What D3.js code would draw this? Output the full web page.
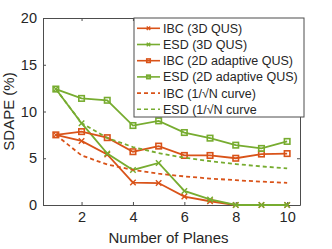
<!DOCTYPE html>
<html>
<head>
<meta charset="utf-8">
<script src="https://cdn.jsdelivr.net/npm/d3@7"></script>
<style>
  body { margin: 0; background: #fff; }
  text { font-family: "Liberation Sans", Arial, sans-serif; fill: #262626; }
</style>
</head>
<body>
<div id="chart"></div>
<script>
// data
const planes = [1, 2, 3, 4, 5, 6, 7, 8, 9, 10];
const ibc3d = [7.5, 6.85, 5.4, 2.4, 2.35, 0.9, 0.4, 0, 0, 0];
const esd3d = [12.4, 8.75, 5.5, 3.75, 4.5, 1.5, 0.6, 0, 0, 0];
const ibc2d = [7.5, 7.85, 7.2, 5.7, 6.3, 5.3, 5.3, 5.0, 5.45, 5.5];
const esd2d = [12.4, 11.4, 11.2, 8.5, 9.0, 7.75, 7.15, 6.4, 6.05, 6.8];
const ibcCurve = [7.5, 5.3, 4.33, 3.75, 3.35, 3.06, 2.83, 2.65, 2.5, 2.37];
const esdCurve = [12.4, 8.77, 7.16, 6.2, 5.55, 5.06, 4.69, 4.38, 4.13, 3.92];
const xTicks = [2, 4, 6, 8, 10];
const yTicks = [0, 5, 10, 15, 20];

const orange = "#D95319", green = "#77AC30";
const series = [
    { name: "IBC (3D QUS)", values: ibc3d, color: orange, marker: "x", dash: null },
    { name: "ESD (3D QUS)", values: esd3d, color: green, marker: "x", dash: null },
    { name: "IBC (2D adaptive QUS)", values: ibc2d, color: orange, marker: "s", dash: null },
    { name: "ESD (2D adaptive QUS)", values: esd2d, color: green, marker: "s", dash: null },
    { name: "IBC (1/\u221AN curve)", values: ibcCurve, color: orange, marker: null, dash: "4,3" },
    { name: "ESD (1/\u221AN curve", values: esdCurve, color: green, marker: null, dash: "4,3" }
];

let margin = { top: 18, right: 32, bottom: 44, left: 43 },
    width = 332 - margin.left - margin.right,
    height = 249 - margin.top - margin.bottom;

let x = d3.scaleLinear().domain([0.5, 10.5]).range([0, width]);
let y = d3.scaleLinear().domain([0, 20]).range([height, 0]);

let svg = d3.select("#chart").append("svg")
    .attr("width", 332)
    .attr("height", 249)
  .append("g")
    .attr("transform", `translate(${margin.left},${margin.top})`);

// axes with inward ticks on all four sides
const axisColor = "#4d4d4d";
const styleAxis = g => g
    .call(g => g.select(".domain").attr("stroke", axisColor))
    .call(g => g.selectAll(".tick line").attr("stroke", axisColor))
    .call(g => g.selectAll(".tick text")
        .attr("font-size", "14.5px")
        .attr("fill", "#262626")
        .attr("font-family", "Liberation Sans, Arial, sans-serif"));

svg.append("g")
    .attr("transform", `translate(0,${height})`)
    .call(d3.axisBottom(x).tickValues(xTicks).tickSizeInner(-3).tickSizeOuter(0).tickPadding(7))
    .call(styleAxis);
svg.append("g")
    .call(d3.axisTop(x).tickValues(xTicks).tickSizeInner(-3).tickSizeOuter(0).tickFormat(""))
    .call(styleAxis);
svg.append("g")
    .call(d3.axisLeft(y).tickValues(yTicks).tickSizeInner(-3).tickSizeOuter(0).tickPadding(6))
    .call(styleAxis);
svg.append("g")
    .attr("transform", `translate(${width},0)`)
    .call(d3.axisRight(y).tickValues(yTicks).tickSizeInner(-3).tickSizeOuter(0).tickFormat(""))
    .call(styleAxis);

let line = d3.line()
    .x((d, i) => x(planes[i]))
    .y(d => y(d));

function drawMarker(g, type, color, size) {
    if (type === "s") {
        g.append("rect")
            .attr("x", -size / 2).attr("y", -size / 2)
            .attr("width", size).attr("height", size)
            .attr("fill", "none")
            .attr("stroke", color)
            .attr("stroke-width", 1.6);
    } else if (type === "x") {
        let h = size / 2;
        g.append("path")
            .attr("d", `M${-h},${-h}L${h},${h}M${-h},${h}L${h},${-h}`)
            .attr("stroke", color)
            .attr("stroke-width", 1.4);
    }
}

series.forEach(s => {
    svg.append("path")
        .datum(s.values)
        .attr("fill", "none")
        .attr("stroke", s.color)
        .attr("stroke-width", 1.8)
        .attr("stroke-dasharray", s.dash)
        .attr("d", line);
    if (s.marker) {
        s.values.forEach((v, i) => {
            let g = svg.append("g")
                .attr("transform", `translate(${x(planes[i])},${y(v)})`);
            drawMarker(g, s.marker, s.color, s.marker === "s" ? 5.5 : 5.5);
        });
    }
});

// legend
let legend = svg.append("g")
    .attr("transform", `translate(${134 - margin.left},0)`);
legend.append("rect")
    .attr("width", 170).attr("height", 99)
    .attr("fill", "#fff")
    .attr("stroke", axisColor)
    .attr("stroke-width", 1);
series.forEach((s, i) => {
    let yy = 10.3 + i * 16.2;
    legend.append("line")
        .attr("x1", 3).attr("x2", 26)
        .attr("y1", yy).attr("y2", yy)
        .attr("stroke", s.color)
        .attr("stroke-width", 1.6)
        .attr("stroke-dasharray", s.dash);
    if (s.marker) {
        let g = legend.append("g").attr("transform", `translate(14.5,${yy})`);
        drawMarker(g, s.marker, s.color, 3.5);
    }
    legend.append("text")
        .attr("x", 29)
        .attr("y", yy)
        .attr("dy", "0.36em")
        .attr("font-size", "12.5px")
        .text(s.name);
});

// axis labels
svg.append("text")
    .attr("x", width / 2 - 3)
    .attr("y", height + 38)
    .attr("text-anchor", "middle")
    .attr("font-size", "15px")
    .text("Number of Planes");

svg.append("text")
    .attr("transform", `translate(${14 - margin.left},${height / 2}) rotate(-90)`)
    .attr("text-anchor", "middle")
    .attr("font-size", "15px")
    .text("SDAPE (%)");
</script>
</body>
</html>
